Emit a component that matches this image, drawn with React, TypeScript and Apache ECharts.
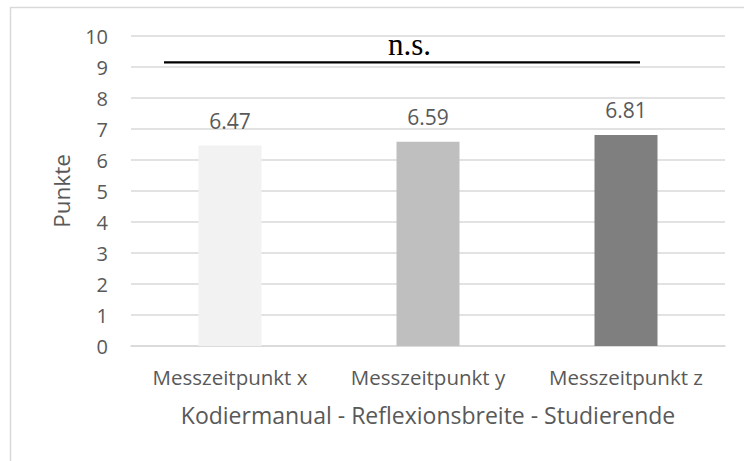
import React, { useEffect, useRef } from "react";
import * as echarts from "echarts";

const categories = ["Messzeitpunkt x", "Messzeitpunkt y", "Messzeitpunkt z"];
const values = [6.47, 6.59, 6.81];
const barColors = ["#f2f2f2", "#bfbfbf", "#7f7f7f"];
const yTicks = { min: 0, max: 10, interval: 1 };
const xAxisTitle = "Kodiermanual - Reflexionsbreite - Studierende";
const yAxisTitle = "Punkte";
const sigLabel = "n.s.";
const sigLevel = 9.15;

const FONT = "'Open Sans', sans-serif";
const TEXT = "#595959";
const GRID = "#d9d9d9";

export default function App() {
  const ref = useRef<HTMLDivElement>(null);
  useEffect(() => {
    if (!ref.current) return;
    const chart = echarts.init(ref.current, null, { renderer: "svg" });
    chart.setOption({
      animation: false,
      backgroundColor: "#ffffff",
      grid: { left: 131, right: 19, top: 36, bottom: 115, containLabel: false },
      xAxis: {
        type: "category",
        data: categories,
        axisLine: { show: true, lineStyle: { color: GRID, width: 1.5 } },
        axisTick: { show: false },
        axisLabel: {
          color: TEXT,
          fontFamily: FONT,
          fontSize: 20.5,
          margin: 20,
          interval: 0,
          hideOverlap: false,
        },
        name: xAxisTitle,
        nameLocation: "middle",
        nameGap: 57,
        nameTextStyle: { color: TEXT, fontFamily: FONT, fontSize: 23 },
      },
      yAxis: {
        type: "value",
        min: yTicks.min,
        max: yTicks.max,
        interval: yTicks.interval,
        axisLine: { show: false },
        axisTick: { show: false },
        splitLine: { lineStyle: { color: GRID, width: 1.5 } },
        axisLabel: { color: TEXT, fontFamily: FONT, fontSize: 20, margin: 23 },
        name: yAxisTitle,
        nameLocation: "middle",
        nameGap: 58,
        nameTextStyle: { color: TEXT, fontFamily: FONT, fontSize: 22.5 },
      },
      series: [
        {
          type: "bar",
          barWidth: 63,
          data: values.map((v, i) => ({ value: v, itemStyle: { color: barColors[i] } })),
          label: {
            show: true,
            position: "top",
            distance: 14,
            color: TEXT,
            fontFamily: FONT,
            fontSize: 21,
            formatter: (p: any) => Number(p.value).toFixed(2),
          },
        },
      ],
    });
    const yLine = chart.convertToPixel({ yAxisIndex: 0 }, sigLevel) as number;
    chart.setOption({
      graphic: [
        {
          type: "rect",
          shape: { x: 10.5, y: 7.5, width: 900, height: 600 },
          style: { fill: "none", stroke: GRID, lineWidth: 1.5 },
          silent: true,
        },
        {
          type: "line",
          shape: { x1: 164, y1: yLine, x2: 640, y2: yLine },
          style: { stroke: "#000000", lineWidth: 2.2 },
          z: 100,
        },
        {
          type: "text",
          x: 409.5,
          y: yLine - 2,
          style: {
            text: sigLabel,
            fill: "#000000",
            font: "31px 'Liberation Serif', serif",
            align: "center",
            verticalAlign: "bottom",
          },
          z: 100,
        },
      ],
    });
    return () => chart.dispose();
  }, []);
  return (
    <div
      ref={ref}
      style={{ position: "fixed", left: 0, top: 0, width: 744, height: 461 }}
    />
  );
}
